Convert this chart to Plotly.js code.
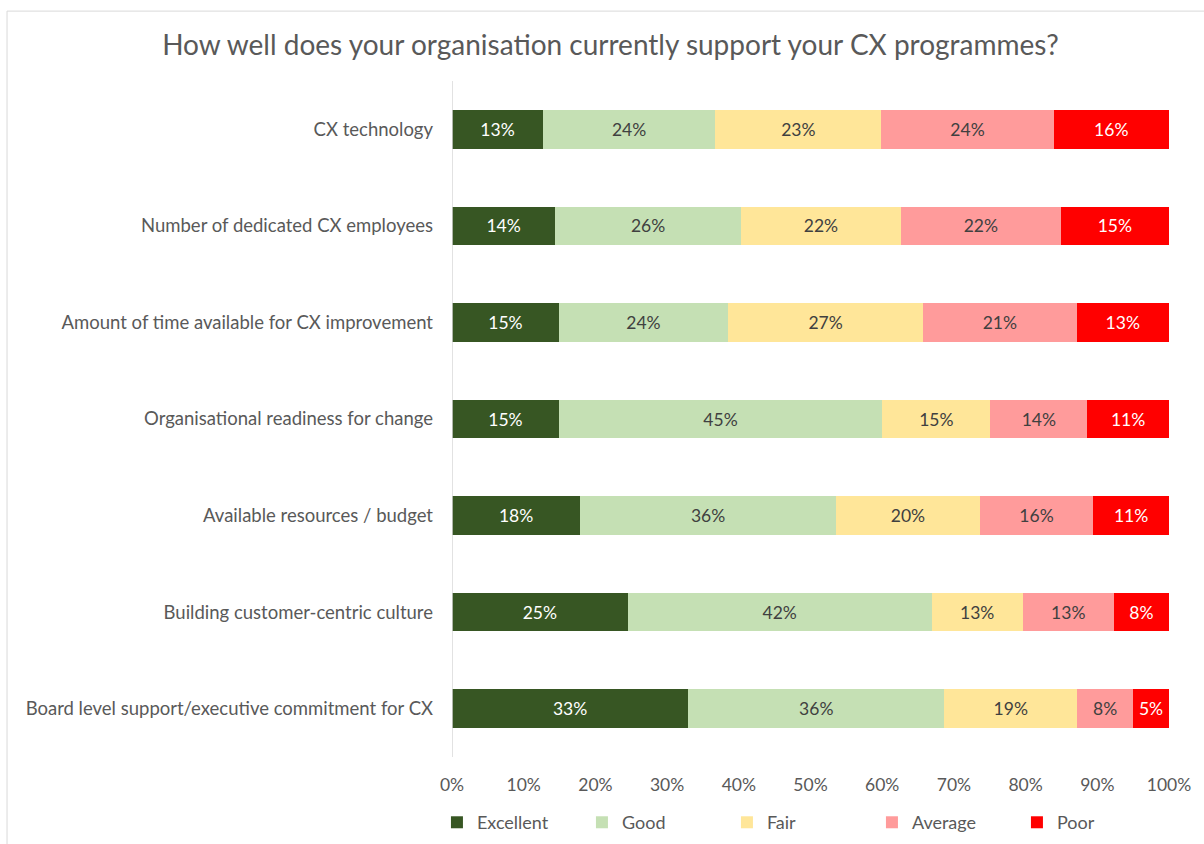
<!DOCTYPE html>
<html>
<head>
<meta charset="utf-8">
<script src="https://cdn.plot.ly/plotly-3.0.1.min.js"></script>
<style>
  html, body { margin: 0; padding: 0; background: #fff; }
  #chart { width: 1204px; height: 844px; }
</style>
</head>
<body>
<div id="chart"></div>
<script>
// categories, top to bottom as in the chart
const categories = [
    'CX technology',
    'Number of dedicated CX employees',
    'Amount of time available for CX improvement',
    'Organisational readiness for change',
    'Available resources / budget',
    'Building customer-centric culture',
    'Board level support/executive commitment for CX'
];

// share of respondents (%)
const excellent = [12.7, 14.4, 14.9, 14.9, 17.9, 24.5, 32.9];
const good      = [24.0, 25.9, 23.6, 45.1, 35.7, 42.4, 35.7];
const fair      = [23.2, 22.3, 27.2, 15.1, 20.1, 12.7, 18.5];
const average   = [24.0, 22.3, 21.4, 13.5, 15.8, 12.7, 7.8];
const poor      = [16.1, 15.1, 12.9, 11.4, 10.6, 7.7, 5.0];

const xTicks = [0, 10, 20, 30, 40, 50, 60, 70, 80, 90, 100];

const FONT = 'Lato, "Open Sans", sans-serif';
const GREY = '#595959';

function makeTrace(name, values, color, textColor) {
    return {
        type: 'bar',
        orientation: 'h',
        name: name,
        y: categories,
        x: values,
        marker: { color: color, line: { width: 0 } },
        text: values.map(v => Math.round(v) + '%'),
        textposition: 'inside',
        insidetextanchor: 'middle',
        constraintext: 'none',
        textfont: { family: FONT, size: 17.5, color: textColor },
        hoverinfo: 'name+text'
    };
}

const traces = [
    makeTrace('Excellent', excellent, '#375623', '#ffffff'),
    makeTrace('Good', good, '#c5e0b4', '#404040'),
    makeTrace('Fair', fair, '#ffe699', '#404040'),
    makeTrace('Average', average, '#ff9b9b', '#404040'),
    makeTrace('Poor', poor, '#ff0000', '#ffffff')
];

const layout = {
    width: 1204,
    height: 844,
    barmode: 'stack',
    barnorm: 'percent',
    bargap: 0.6,
    margin: { l: 452, r: 35, t: 81, b: 87, autoexpand: false },
    paper_bgcolor: '#ffffff',
    plot_bgcolor: '#ffffff',
    font: { family: FONT, color: GREY },
    title: {
        text: 'How well does your organisation currently support your CX programmes?',
        font: { family: FONT, size: 28, color: GREY },
        xref: 'container', x: 0.507, xanchor: 'center',
        yref: 'container', y: 0.947, yanchor: 'middle'
    },
    xaxis: {
        range: [0, 100],
        tickvals: xTicks,
        ticktext: xTicks.map(t => t + '%'),
        showgrid: false,
        zeroline: false,
        showline: false,
        ticks: '',
        ticklabelstandoff: 15,
        tickfont: { family: FONT, size: 17.5, color: GREY },
        fixedrange: true
    },
    yaxis: {
        type: 'category',
        autorange: 'reversed',
        showgrid: false,
        zeroline: false,
        showline: false,
        ticks: '',
        ticklabelstandoff: 18,
        tickfont: { family: FONT, size: 18.5, color: GREY },
        fixedrange: true
    },
    legend: {
        orientation: 'h',
        x: -0.021, xanchor: 'left',
        y: -0.097, yanchor: 'middle',
        entrywidth: 100,
        entrywidthmode: 'pixels',
        traceorder: 'normal',
        font: { family: FONT, size: 18, color: GREY }
    },
    shapes: [
        // vertical axis line at 0%
        {
            type: 'line', xref: 'x', yref: 'paper',
            x0: 0, x1: 0, y0: 0, y1: 1,
            line: { color: '#d9d9d9', width: 1.5 }
        },
        // chart frame
        {
            type: 'rect', xref: 'paper', yref: 'paper',
            x0: -0.6206, x1: 1.06, y0: -0.14, y1: 1.1034,
            line: { color: '#d9d9d9', width: 1 },
            layer: 'below'
        }
    ],
    showlegend: true
};

Plotly.newPlot('chart', traces, layout, { displayModeBar: false, staticPlot: true });
</script>
</body>
</html>
